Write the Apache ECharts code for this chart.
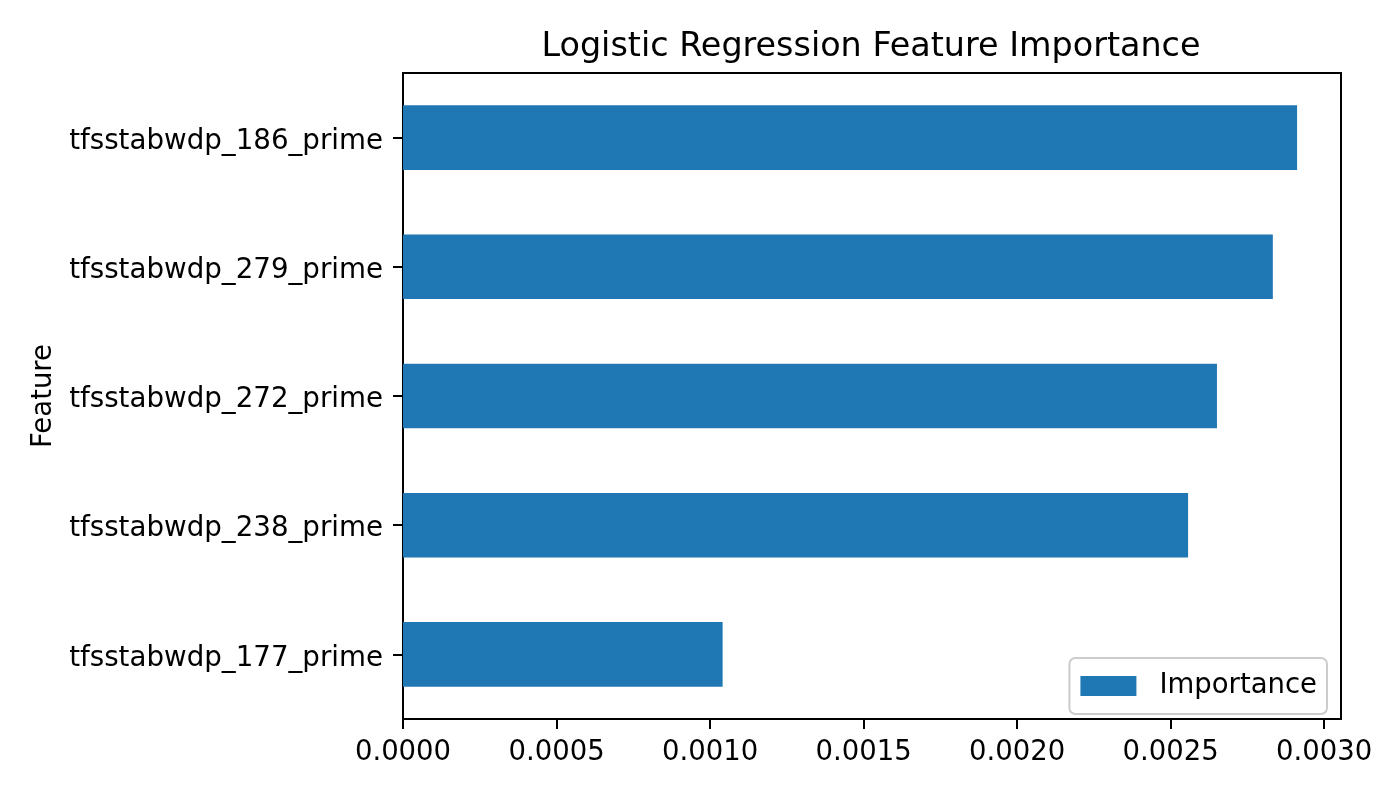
<!DOCTYPE html>
<html>
<head>
<meta charset="utf-8">
<script src="https://cdn.jsdelivr.net/npm/echarts@6/dist/echarts.min.js"></script>
<style>
html, body { margin: 0; padding: 0; background: #fff; }
#chart { width: 1400px; height: 800px; }
</style>
</head>
<body>
<div id="chart"></div>
<script>
// 特征名称，从上到下
const features = [
	'tfsstabwdp_186_prime',
	'tfsstabwdp_279_prime',
	'tfsstabwdp_272_prime',
	'tfsstabwdp_238_prime',
	'tfsstabwdp_177_prime'
]
const importance = [0.002912, 0.002833, 0.002651, 0.002557, 0.001041]
const xTicks = [0, 0.0005, 0.001, 0.0015, 0.002, 0.0025, 0.003]
const xMax = 0.003055

const font = 'DejaVu Sans'
const chart = echarts.init(document.getElementById('chart'))

const option = {
	animation: false,
	backgroundColor: '#fff',
	textStyle: { fontFamily: font },
	title: {
		text: 'Logistic Regression Feature Importance',
		left: 866,
		top: 26,
		textAlign: 'center',
		textStyle: { fontFamily: font, fontSize: 33.4, fontWeight: 'normal', color: '#000' }
	},
	legend: {
		data: ['Importance'],
		right: 73,
		top: 658,
		icon: 'rect',
		itemWidth: 56,
		itemHeight: 20,
		padding: [14, 10, 14, 11],
		borderColor: '#cccccc',
		borderWidth: 2,
		borderRadius: 6,
		backgroundColor: 'rgba(255,255,255,0.8)',
		textStyle: { fontFamily: font, fontSize: 27.5, color: '#000', padding: [0, 0, 0, 18] }
	},
	grid: {
		left: 403,
		right: 59,
		top: 73,
		bottom: 81,
		containLabel: false,
		outerBoundsMode: 'none',
		show: true,
		borderColor: '#000',
		borderWidth: 2,
		backgroundColor: 'transparent'
	},
	xAxis: {
		type: 'value',
		min: 0,
		max: xMax,
		interval: 0.0005,
		splitLine: { show: false },
		axisLine: { show: true, lineStyle: { color: '#000', width: 2 } },
		axisTick: { show: true, length: 10, lineStyle: { color: '#000', width: 2 }, customValues: xTicks },
		axisLabel: {
			color: '#000',
			fontSize: 27.5,
			fontFamily: font,
			margin: 20,
			customValues: xTicks,
			formatter: v => v.toFixed(4)
		}
	},
	yAxis: {
		type: 'category',
		data: features,
		inverse: true,
		name: 'Feature',
		nameLocation: 'middle',
		nameRotate: 90,
		nameGap: 342,
		nameTextStyle: { fontFamily: font, fontSize: 27.5, color: '#000' },
		axisLine: { show: true, lineStyle: { color: '#000', width: 2 } },
		axisTick: { show: true, alignWithLabel: true, length: 10, lineStyle: { color: '#000', width: 2 } },
		axisLabel: { color: '#000', fontSize: 27.7, fontFamily: font, margin: 20, verticalAlign: 'top', lineHeight: 8 }
	},
	series: [
		{
			name: 'Importance',
			type: 'bar',
			data: importance,
			barWidth: '50%',
			itemStyle: { color: '#1f77b4' }
		}
	]
}
chart.setOption(option)
</script>
</body>
</html>
